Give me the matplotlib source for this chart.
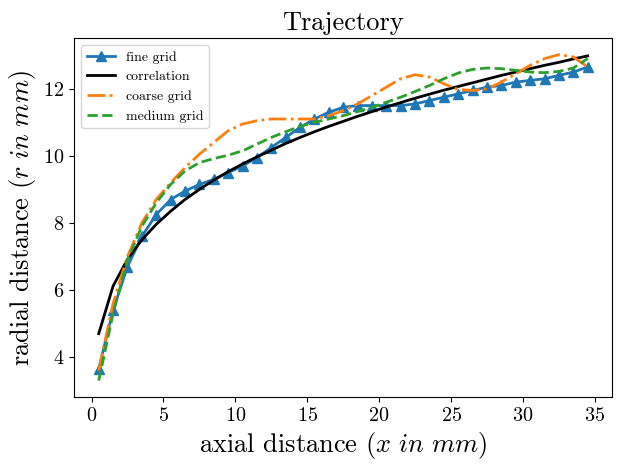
import numpy as np
import matplotlib
matplotlib.use("Agg")
import matplotlib.pyplot as plt

plt.rcParams['font.family'] = 'serif'
plt.rcParams['font.serif'] = ['cmr10']
plt.rcParams['mathtext.fontset'] = 'cm'
plt.rcParams['axes.unicode_minus'] = False
plt.rcParams['axes.formatter.use_mathtext'] = True

# axial positions (mm)
x = [0.5, 1.5, 2.5, 3.5, 4.5, 5.5, 6.5, 7.5, 8.5, 9.5, 10.5, 11.5, 12.5, 13.5,
     14.5, 15.5, 16.5, 17.5, 18.5, 19.5, 20.5, 21.5, 22.5, 23.5, 24.5, 25.5,
     26.5, 27.5, 28.5, 29.5, 30.5, 31.5, 32.5, 33.5, 34.5]

# radial distance (mm)
fine = [3.65, 5.4, 6.7, 7.6, 8.25, 8.7, 8.95, 9.15, 9.3, 9.5, 9.7, 9.95,
        10.25, 10.55, 10.85, 11.1, 11.3, 11.45, 11.5, 11.5, 11.5, 11.5,
        11.55, 11.65, 11.75, 11.85, 11.95, 12.05, 12.1, 12.2, 12.25, 12.3,
        12.4, 12.5, 12.65]
correlation = [4.70, 6.12, 6.92, 7.50, 7.96, 8.35, 8.70, 9.00, 9.28, 9.53,
               9.76, 9.97, 10.17, 10.37, 10.55, 10.72, 10.88, 11.03, 11.18,
               11.32, 11.46, 11.59, 11.72, 11.84, 11.96, 12.07, 12.18, 12.29,
               12.40, 12.50, 12.60, 12.70, 12.79, 12.89, 12.98]
coarse = [3.6, 5.6, 7.0, 8.0, 8.7, 9.2, 9.65, 10.05, 10.4, 10.75, 10.95,
          11.05, 11.1, 11.1, 11.1, 11.1, 11.2, 11.35, 11.55, 11.8, 12.05,
          12.3, 12.42, 12.35, 12.15, 11.98, 11.95, 12.0, 12.2, 12.45, 12.7,
          12.9, 13.02, 12.95, 12.65]
medium = [3.3, 5.3, 6.9, 7.9, 8.6, 9.15, 9.55, 9.8, 9.92, 10.02, 10.15,
          10.35, 10.55, 10.72, 10.88, 11.0, 11.1, 11.2, 11.32, 11.45, 11.6,
          11.75, 11.92, 12.1, 12.3, 12.47, 12.58, 12.62, 12.6, 12.55, 12.5,
          12.48, 12.52, 12.62, 12.9]

fig, ax = plt.subplots(figsize=(6.24, 4.67), dpi=100)
fig.subplots_adjust(left=0.119, right=0.981, bottom=0.15, top=0.918)

ax.plot(x, fine, '-^', color='tab:blue', lw=2, markersize=7.5, label='fine grid')
ax.plot(x, correlation, '-', color='black', lw=2, label='correlation')
ax.plot(x, coarse, '-.', color='tab:orange', lw=2, label='coarse grid')
ax.plot(x, medium, '--', color='tab:green', lw=2, label='medium grid')

ax.set_title('Trajectory', fontsize=19)
ax.set_xlabel(r'axial distance ($x\ in\ mm$)', fontsize=19)
ax.set_ylabel(r'radial distance ($r\ in\ mm$)', fontsize=19)
ax.tick_params(labelsize=14.5)
ax.legend(loc='upper left', fontsize=10)

fig.savefig('out.png', dpi=100)
